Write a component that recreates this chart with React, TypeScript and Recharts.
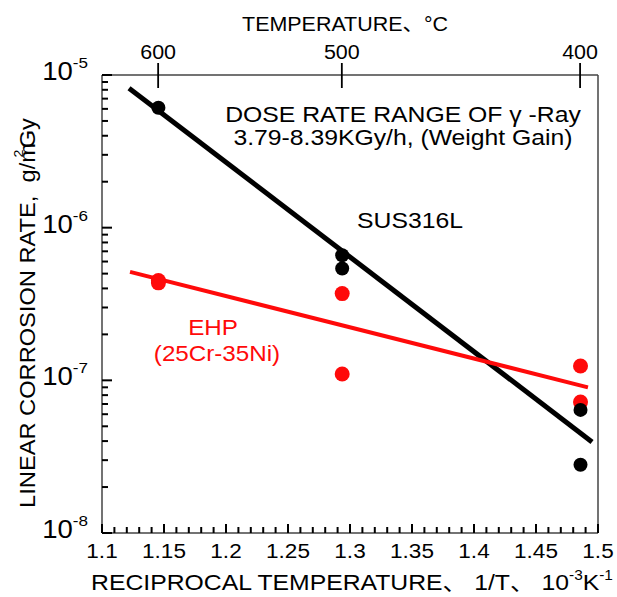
import React from 'react';
import { ScatterChart, Scatter, XAxis, YAxis } from 'recharts';

// ---- data ----
const temperaturesC = [600, 500, 400];
const xMajorTicks = [1.1, 1.15, 1.2, 1.25, 1.3, 1.35, 1.4, 1.45, 1.5];
const yDecades = [1e-8, 1e-7, 1e-6, 1e-5];

const sus316lX = [1.1455, 1.2937, 1.2937, 1.4859, 1.4859];
const sus316lRate = [6.1e-6, 6.6e-7, 5.4e-7, 6.4e-8, 2.8e-8];

const ehpX = [1.1455, 1.1455, 1.2937, 1.2937, 1.4859, 1.4859];
const ehpRate = [4.5e-7, 4.35e-7, 3.7e-7, 1.1e-7, 1.24e-7, 7.2e-8];

const susFitX = [1.1218, 1.4952];
const susFitRate = [8.2e-6, 3.95e-8];
const ehpFitX = [1.1226, 1.4919];
const ehpFitRate = [5.13e-7, 9.0e-8];

// ---- derived tables ----
const toPts = (xs: number[], ys: number[]) => xs.map((x, i) => ({ x, y: ys[i] }));
const susPts = toPts(sus316lX, sus316lRate);
const ehpPts = toPts(ehpX, ehpRate);
const susFit = toPts(susFitX, susFitRate);
const ehpFit = toPts(ehpFitX, ehpFitRate);

const xAllTicks = Array.from({ length: 41 }, (_, i) => Math.round((1.1 + i * 0.01) * 100) / 100);
const yAllTicks: number[] = [];
yDecades.forEach((d, i) => {
  yAllTicks.push(d);
  if (i < yDecades.length - 1) for (let k = 2; k <= 9; k++) yAllTicks.push(k * d);
});
const topTicks = temperaturesC.map((t) => 1000 / (t + 273.15));

const FONT = '"Liberation Sans", Arial, Helvetica, "Noto Sans CJK JP", sans-serif';
const SX = 1.1;
const FRAME = '#444';
const TICK = '#000';
const RED = '#ff0a0a';

function T({ x, y, size, anchor = 'middle', fill = '#000', rotate = 0, children }: any) {
  return (
    <text
      transform={`translate(${x},${y}) rotate(${rotate}) scale(${SX},1)`}
      x={0}
      y={0}
      fontSize={size}
      textAnchor={anchor}
      fill={fill}
      stroke="none"
      fontFamily={FONT}
    >
      {children}
    </text>
  );
}

const isMajorX = (v: number) => xMajorTicks.some((m) => Math.abs(m - v) < 1e-6);
const isDecade = (v: number) => Math.abs(Math.log10(v) - Math.round(Math.log10(v))) < 1e-6;

const renderBottomTick = (props: any) => {
  const x = Number(props.x);
  const y = Number(props.y);
  const v = props.payload.value;
  const major = isMajorX(v);
  return (
    <g>
      <line x1={x} x2={x} y1={y} y2={y - (major ? 9 : 6)} stroke={TICK} strokeWidth={2} />
      {major && (
        <T x={x} y={y + 25} size={20.5}>
          {String(Number(v.toFixed(2)))}
        </T>
      )}
    </g>
  );
};

const renderLeftTick = (props: any) => {
  const x = Number(props.x);
  const y = Number(props.y);
  const v = props.payload.value;
  const major = isDecade(v);
  const exp = Math.round(Math.log10(v));
  return (
    <g>
      <line x1={x} x2={x + (major ? 10 : 6)} y1={y} y2={y} stroke={TICK} strokeWidth={2} />
      {major && (
        <T x={x - 14} y={y + 5} size={25}>
          <tspan textAnchor="end">
            10
            <tspan fontSize={15.5} dy={-12}>
              {String(exp)}
            </tspan>
          </tspan>
        </T>
      )}
    </g>
  );
};

const renderTopTick = (props: any) => {
  const x = Number(props.x);
  const y = Number(props.y);
  const t = Math.round(1000 / props.payload.value - 273.15);
  return (
    <g>
      <line x1={x} x2={x} y1={y - 12} y2={y + 13} stroke="#000" strokeWidth={1.8} />
      <T x={x} y={y - 16} size={19.5}>
        {String(t)}
      </T>
    </g>
  );
};

const noShape = () => <g />;
const dot = (color: string, r: number) => (p: any) => <circle cx={p.cx} cy={p.cy} r={r} fill={color} />;

export default function App() {
  return (
    <div style={{ position: 'absolute', left: 0, top: 0, width: 617, height: 597, background: '#fff' }}>
      <ScatterChart width={617} height={597} margin={{ top: 0, right: 0, bottom: 0, left: 0 }}>
        <XAxis
          dataKey="x"
          type="number"
          domain={[1.1, 1.5]}
          ticks={xAllTicks}
          interval={0}
          allowDataOverflow
          height={64}
          tickSize={0}
          tickMargin={0}
          tickLine={false}
          axisLine={{ stroke: FRAME, strokeWidth: 1.5 }}
          tick={renderBottomTick}
        />
        <XAxis
          xAxisId="top"
          dataKey="x"
          orientation="top"
          type="number"
          domain={[1.1, 1.5]}
          ticks={topTicks}
          interval={0}
          allowDataOverflow
          height={75}
          tickSize={0}
          tickMargin={0}
          tickLine={false}
          axisLine={{ stroke: FRAME, strokeWidth: 1.5 }}
          tick={renderTopTick}
        />
        <YAxis
          dataKey="y"
          type="number"
          scale="log"
          domain={[1e-8, 1e-5]}
          ticks={yAllTicks}
          interval={0}
          allowDataOverflow
          width={102}
          tickSize={0}
          tickMargin={0}
          tickLine={false}
          axisLine={{ stroke: FRAME, strokeWidth: 1.5 }}
          tick={renderLeftTick}
        />
        <YAxis
          yAxisId="right"
          dataKey="y"
          orientation="right"
          type="number"
          scale="log"
          domain={[1e-8, 1e-5]}
          allowDataOverflow
          width={19}
          tick={false}
          tickLine={false}
          axisLine={{ stroke: FRAME, strokeWidth: 1.5 }}
        />
        <Scatter
          name="SUS316L fit"
          data={susFit}
          line={{ stroke: '#000', strokeWidth: 5 }}
          shape={noShape}
          isAnimationActive={false}
        />
        <Scatter
          name="EHP fit"
          xAxisId="top"
          yAxisId="right"
          data={ehpFit}
          line={{ stroke: RED, strokeWidth: 4 }}
          shape={noShape}
          isAnimationActive={false}
        />
        <Scatter name="EHP" data={ehpPts} shape={dot(RED, 7.5)} isAnimationActive={false} />
        <Scatter name="SUS316L" data={susPts} shape={dot('#000', 7)} isAnimationActive={false} />
      </ScatterChart>
      <svg
        width={617}
        height={597}
        style={{ position: 'absolute', left: 0, top: 0, pointerEvents: 'none', overflow: 'visible' }}
      >
        <T x={345} y={31} size={19.5}>TEMPERATURE、°C</T>
        <T x={35} y={313} size={21.5} rotate={-90}>
          LINEAR CORROSION RATE,{'\u00a0\u00a0'}g/m
          <tspan fontSize={13} dy={-12} dx={-13}>2</tspan>
          <tspan dy={12} dx={1}>Gy</tspan>
        </T>
        <T x={352} y={590} size={22.5}>
          RECIPROCAL TEMPERATURE、 1/T、 10
          <tspan fontSize={14} dy={-10}>-3</tspan>
          <tspan dy={10}>K</tspan>
          <tspan fontSize={14} dy={-10}>-1</tspan>
        </T>
        <T x={403} y={122} size={22.5}>DOSE RATE RANGE OF γ -Ray</T>
        <T x={403} y={145} size={22.5}>3.79-8.39KGy/h, (Weight Gain)</T>
        <T x={410} y={228} size={22.5}>SUS316L</T>
        <T x={213} y={335} size={22} fill={RED}>EHP</T>
        <T x={217} y={361} size={22} fill={RED}>(25Cr-35Ni)</T>
      </svg>
    </div>
  );
}
